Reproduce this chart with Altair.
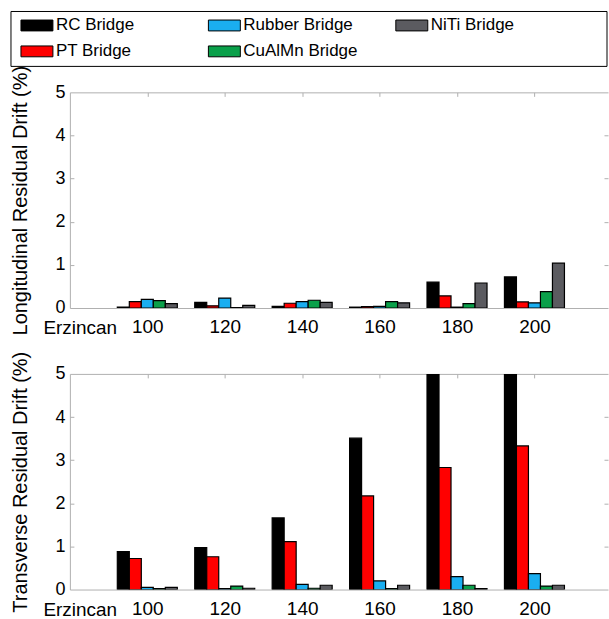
import altair as alt
import pandas as pd

FONT = "Liberation Sans"

series = ["RC Bridge", "PT Bridge", "Rubber Bridge", "CuAlMn Bridge", "NiTi Bridge"]
colors = ["#000000", "#ff0000", "#1aaef0", "#0aa04a", "#5b5b60"]
categories = ["100", "120", "140", "160", "180", "200"]
event_label = "Erzincan"
y_ticks = [0, 1, 2, 3, 4, 5]

# Longitudinal residual drift (%)
long_rc = [0.02, 0.13, 0.04, 0.02, 0.60, 0.72]
long_pt = [0.15, 0.05, 0.11, 0.03, 0.28, 0.14]
long_rubber = [0.20, 0.23, 0.15, 0.04, 0.02, 0.12]
long_cualmn = [0.17, 0.01, 0.18, 0.15, 0.10, 0.38]
long_niti = [0.10, 0.06, 0.13, 0.12, 0.58, 1.04]

# Transverse residual drift (%) (RC at 180/200 exceed the 5 % axis limit)
trans_rc = [0.88, 0.97, 1.66, 3.51, 6.0, 6.0]
trans_pt = [0.72, 0.76, 1.11, 2.17, 2.83, 3.33]
trans_rubber = [0.05, 0.02, 0.12, 0.20, 0.30, 0.37]
trans_cualmn = [0.02, 0.08, 0.03, 0.02, 0.10, 0.08]
trans_niti = [0.05, 0.03, 0.10, 0.10, 0.02, 0.10]

AX = "#b0b0b0"
W, H = 539, 216
BW = 0.155


def build_df(vals):
    rows = []
    for si, name in enumerate(series):
        for ci, cat in enumerate(categories):
            rows.append(dict(series=name, sidx=si, cat=cat, pos=ci + 1, value=vals[si][ci]))
    return pd.DataFrame(rows)


xscale = alt.Scale(domain=[0, 6.95], nice=False, zero=False)
yscale = alt.Scale(domain=[0, 5], nice=False)
color_scale = alt.Scale(domain=series, range=colors)
label_expr = "[" + ",".join(f"'{c}'" for c in categories) + "][datum.value - 1]"
cat_pos = list(range(1, len(categories) + 1))


def panel(df, ytitle):
    base = alt.Chart(df).transform_calculate(
        x0=f"datum.pos + (datum.sidx - 2.5) * {BW}",
        x1=f"datum.pos + (datum.sidx - 1.5) * {BW}",
    )
    bars = base.mark_bar(stroke="black", strokeWidth=1.2, clip=True).encode(
        x=alt.X("x0:Q", scale=xscale, axis=alt.Axis(
            values=cat_pos, labelExpr=label_expr, title=event_label,
            titleX=-27, titleY=11, titleAlign="left", titleBaseline="top",
            titleFontWeight="normal", titleFontSize=19, titleFont=FONT, titleColor="black",
            ticks=False, grid=False, domainColor=AX, labelPadding=10,
            labelFontSize=19, labelFont=FONT, labelColor="black")),
        x2="x1:Q",
        y=alt.Y("value:Q", scale=yscale, axis=alt.Axis(
            values=y_ticks, title=ytitle, titleFontWeight="normal", titleFontSize=20,
            titleFont=FONT, titleColor="black", titlePadding=24, ticks=False, grid=False,
            domainColor=AX, labelPadding=5, labelFontSize=18, labelFont=FONT,
            labelColor="black")),
        y2=alt.datum(0),
        color=alt.Color("series:N", scale=color_scale, legend=None),
    )
    frame = base.mark_bar(opacity=0, clip=True).encode(
        x=alt.X("x0:Q", scale=xscale, axis=alt.Axis(
            orient="top", labels=False, ticks=False, grid=False, title=None,
            domainColor=AX)),
        x2="x1:Q",
        y=alt.Y("value:Q", scale=yscale, axis=alt.Axis(
            orient="left", offset=-4, tickSize=4, values=[1, 2, 3, 4], labels=False,
            domain=False, grid=False, title=None, tickColor=AX)),
        y2=alt.datum(0),
    )
    inner_ticks = base.mark_bar(opacity=0, clip=True).encode(
        x=alt.X("x0:Q", scale=xscale, axis=alt.Axis(
            orient="top", offset=-4, tickSize=4, values=cat_pos, labels=False,
            domain=False, grid=False, title=None, tickColor=AX)),
        x2="x1:Q",
        y=alt.Y("value:Q", scale=yscale, axis=alt.Axis(
            orient="right", offset=-4, tickSize=4, values=[1, 2, 3, 4], labels=False,
            domain=False, grid=False, title=None, tickColor=AX)),
        y2=alt.datum(0),
    )
    return alt.layer(bars, frame, inner_ticks).resolve_axis(
        x="independent", y="independent"
    )


# ---- legend (drawn above the top panel, in its own scales) ----
leg_df = pd.DataFrame({
    "series": series,
    "col": [i // 2 for i in range(len(series))],
    "row": [i % 2 for i in range(len(series))],
})
LX = [0, 3.18]          # legend column domain (box edges)
LY = [-0.54, 1.58]      # legend row domain (box edges)
leg_x = alt.Scale(domain=LX, range=[-59, 538], nice=False, zero=False)
leg_y = alt.Scale(domain=LY, range=[-81, -26], nice=False, zero=False)
leg_base = alt.Chart(leg_df).encode(
    x=alt.X("col:Q", scale=leg_x, axis=None),
    y=alt.Y("row:Q", scale=leg_y, axis=None),
)
box = alt.Chart(pd.DataFrame({"x0": [LX[0]], "x1": [LX[1]], "y0": [LY[0]], "y1": [LY[1]]})).mark_rect(
    fillOpacity=0, stroke="black", strokeWidth=1
).encode(
    x=alt.X("x0:Q", scale=leg_x, axis=None), x2="x1:Q",
    y=alt.Y("y0:Q", scale=leg_y, axis=None), y2="y1:Q",
)
swatch = leg_base.mark_point(
    shape="M-1,-0.34H1V0.34H-1Z", size=1024, filled=True, opacity=1,
    stroke="black", strokeWidth=1, xOffset=26,
).encode(color=alt.Color("series:N", scale=color_scale, legend=None))
leg_text = leg_base.mark_text(
    align="left", baseline="middle", xOffset=45, fontSize=17, font=FONT, color="black"
).encode(text="series:N")
legend = alt.layer(box, swatch, leg_text)

top = alt.layer(
    panel(build_df([long_rc, long_pt, long_rubber, long_cualmn, long_niti]),
          "Longitudinal Residual Drift (%)"),
    legend,
).resolve_scale(x="independent", y="independent").properties(width=W, height=H)

bottom = panel(build_df([trans_rc, trans_pt, trans_rubber, trans_cualmn, trans_niti]),
               "Transverse Residual Drift (%)").properties(width=W, height=H)

chart = alt.vconcat(top, bottom, spacing=13).properties(
    padding={"left": 10, "top": 10, "right": 0, "bottom": 0}
).configure_view(strokeWidth=0)

chart.save("out.html", embed_options={"renderer": "svg", "actions": False})
